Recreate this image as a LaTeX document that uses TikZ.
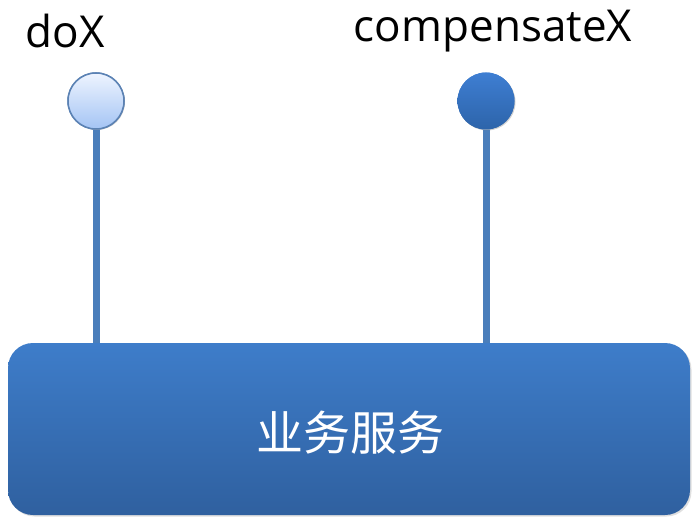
\documentclass[tikz,border=0pt]{standalone}
\usepackage{fontspec}
\setmainfont{Open Sans}
\newfontfamily\cjk{Noto Sans CJK SC}
\usetikzlibrary{shadows}
\definecolor{boxtop}{HTML}{3E7DCA}
\definecolor{boxbot}{HTML}{2F609F}
\definecolor{stem}{HTML}{4A7EBB}
\definecolor{lighttop}{HTML}{EEF4FF}
\definecolor{lightbot}{HTML}{A4C4F4}
\definecolor{lightedge}{HTML}{5B82B4}
\definecolor{darktop}{HTML}{3E7ED2}
\definecolor{darkbot}{HTML}{2D64AA}
\tikzset{
  svcbox/.style={rounded corners=25pt, top color=boxtop, bottom color=boxbot, draw=none,
    drop shadow={shadow xshift=1.5pt, shadow yshift=-1.5pt, opacity=0.25}},
  lightball/.style={circle, minimum size=56pt, inner sep=0pt, top color=lighttop, bottom color=lightbot, draw=lightedge, line width=1.5pt,
    drop shadow={shadow xshift=1pt, shadow yshift=-1pt, opacity=0.2}},
  darkball/.style={circle, minimum size=57pt, inner sep=0pt, top color=darktop, bottom color=darkbot, draw=none,
    drop shadow={shadow xshift=1pt, shadow yshift=-1pt, opacity=0.2}},
  stemline/.style={draw=stem, line width=7pt},
  lbl/.style={font=\fontsize{44}{48}\selectfont, text=black, inner sep=0pt}
}
\begin{document}
\begin{tikzpicture}[x=1pt,y=-1pt]
\useasboundingbox (0,0) rectangle (692,518);
\coordinate (s1) at (96,343);
\coordinate (s2) at (486,343);
\node[lightball] (b1) at (96,101) {};
\node[darkball] (b2) at (486,101) {};
\draw[stemline] (b1.south) -- (s1);
\draw[stemline] (b2.south) -- (s2);
\node[lightball] at (96,101) {};
\node[darkball] at (486,101) {};
\path[svcbox] (8,343) rectangle (690,515);
\node[font=\cjk\fontsize{47}{50}\selectfont, text=white] (svc) at (350,433) {业务服务};
\node[lbl] (t1) at (65,31) {doX};
\node[lbl] (t2) at (493,31) {compensateX};
\end{tikzpicture}
\end{document}
